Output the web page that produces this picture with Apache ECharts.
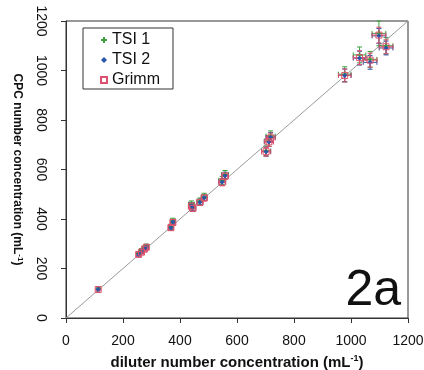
<!DOCTYPE html>
<html>
<head>
<meta charset="utf-8">
<script src="https://cdn.jsdelivr.net/npm/echarts@6/dist/echarts.min.js"></script>
<style>html,body{margin:0;padding:0;background:#fff}#c{width:424px;height:370px}</style>
</head>
<body>
<div id="c"></div>
<script>
// diluter number concentration (x) and its error
const diluter = [113, 255, 265, 275, 282, 368, 375, 440, 445, 470, 485, 548, 558, 702, 712, 718, 978, 1030, 1067, 1098, 1123];
const diluterErr = [3, 6, 6, 6, 6, 8, 8, 10, 10, 10, 10, 12, 12, 16, 16, 16, 22, 22, 24, 24, 24];
// CPC number concentrations per instrument
const tsi1 = [118, 260, 272, 282, 290, 368, 392, 460, 448, 472, 490, 556, 580, 675, 715, 735, 985, 1063, 1045, 1150, 1100];
const tsi1Err = [4, 8, 8, 8, 8, 11, 11, 13, 13, 13, 14, 16, 16, 20, 21, 21, 30, 32, 32, 50, 33];
const tsi2 = [116, 258, 268, 279, 287, 365, 388, 455, 444, 468, 486, 550, 575, 672, 712, 730, 980, 1050, 1033, 1140, 1091];
const tsi2Err = [3, 7, 7, 7, 7, 10, 10, 12, 12, 12, 12, 14, 14, 18, 19, 19, 26, 28, 28, 30, 28];
const grimm = [115, 257, 266, 278, 286, 365, 386, 452, 443, 467, 485, 548, 573, 672, 712, 728, 980, 1052, 1042, 1143, 1096];
const grimmErr = [3, 7, 7, 7, 7, 10, 10, 12, 12, 12, 12, 14, 14, 18, 19, 19, 26, 28, 28, 32, 28];
// 1:1 reference line
const oneToOne = [[0, 0], [1200, 1200]];
const xTicks = [0, 200, 400, 600, 800, 1000, 1200];
const yTicks = [0, 200, 400, 600, 800, 1000, 1200];
const seriesNames = ['TSI 1', 'TSI 2', 'Grimm'];

const colors = { 'TSI 1': '#3f9f3f', 'TSI 2': '#2b55a8', 'Grimm': '#e0506c' };
const FONT = 'Liberation Sans, Arial, sans-serif';

function build(ys, yErr) {
  return diluter.map((x, i) => [x, ys[i], diluterErr[i], yErr[i]]);
}
function errSeries(name, data) {
  const col = colors[name];
  return {
    type: 'custom', name: name + ' err', data: data, z: 2,
    encode: { x: 0, y: 1 },
    renderItem: function (params, api) {
      const x = api.value(0), y = api.value(1), ex = api.value(2), ey = api.value(3);
      const l = api.coord([x - ex, y]), r = api.coord([x + ex, y]);
      const t = api.coord([x, y + ey]), b = api.coord([x, y - ey]);
      const c = 2.5;
      const st = { stroke: col, lineWidth: 1 };
      return { type: 'group', children: [
        { type: 'line', shape: { x1: l[0], y1: l[1], x2: r[0], y2: r[1] }, style: st },
        { type: 'line', shape: { x1: l[0], y1: l[1] - c, x2: l[0], y2: l[1] + c }, style: st },
        { type: 'line', shape: { x1: r[0], y1: r[1] - c, x2: r[0], y2: r[1] + c }, style: st },
        { type: 'line', shape: { x1: t[0], y1: t[1], x2: b[0], y2: b[1] }, style: st },
        { type: 'line', shape: { x1: t[0] - c, y1: t[1], x2: t[0] + c, y2: t[1] }, style: st },
        { type: 'line', shape: { x1: b[0] - c, y1: b[1], x2: b[0] + c, y2: b[1] }, style: st }
      ]};
    }
  };
}
const d1 = build(tsi1, tsi1Err), d2 = build(tsi2, tsi2Err), d3 = build(grimm, grimmErr);
const plain = v => String(v);

const chart = echarts.init(document.getElementById('c'), null, { renderer: 'canvas' });
chart.setOption({
  animation: false,
  backgroundColor: '#fff',
  textStyle: { fontFamily: FONT },
  grid: { left: 66, right: 16, top: 21, bottom: 52, containLabel: false, outerBoundsMode: 'none',
    show: true, borderColor: '#333', borderWidth: 1, backgroundColor: 'transparent' },
  legend: {
    data: seriesNames, orient: 'vertical', left: 83, top: 28,
    padding: [4, 13, 1, 17], itemGap: 4, itemWidth: 6, itemHeight: 6,
    borderColor: '#333', borderWidth: 1,
    textStyle: { fontSize: 16, fontFamily: FONT, color: '#111', lineHeight: 16 }
  },
  xAxis: {
    type: 'value', min: xTicks[0], max: xTicks[xTicks.length - 1], interval: 200,
    splitLine: { show: false },
    axisLine: { show: true, lineStyle: { color: '#333' } },
    axisTick: { show: true, length: 5, inside: false, lineStyle: { color: '#333' } },
    axisLabel: { fontSize: 14, color: '#111', margin: 16, fontFamily: FONT, formatter: plain },
    name: 'diluter number concentration (mL{sup|-1})', nameLocation: 'middle', nameGap: 36,
    nameTextStyle: { fontSize: 15, fontWeight: 'bold', color: '#111', fontFamily: FONT, lineHeight: 17,
      rich: { sup: { fontSize: 9, fontWeight: 'bold', verticalAlign: 'top', lineHeight: 10 } } }
  },
  yAxis: {
    type: 'value', min: yTicks[0], max: yTicks[yTicks.length - 1], interval: 200,
    splitLine: { show: false },
    axisLine: { show: true, lineStyle: { color: '#333' } },
    axisTick: { show: true, length: 5, inside: false, lineStyle: { color: '#333' } },
    axisLabel: { fontSize: 14, color: '#111', margin: 18, rotate: -90, fontFamily: FONT, formatter: plain },
    name: 'CPC number concentration (mL{sup|-1})', nameLocation: 'middle', nameGap: 42, nameRotate: -90,
    nameTextStyle: { fontSize: 12, fontWeight: 'bold', color: '#111', fontFamily: FONT, lineHeight: 14,
      rich: { sup: { fontSize: 8, fontWeight: 'bold', verticalAlign: 'top', lineHeight: 9 } } }
  },
  graphic: [{
    type: 'text', right: 23, top: 266, z: 10,
    style: { text: '2a', font: '50px ' + FONT, fill: '#111' }
  }],
  series: [
    { type: 'line', name: '1:1', data: oneToOne, symbol: 'none', z: 1,
      lineStyle: { color: '#9a9a9a', width: 1 }, silent: true },
    errSeries('TSI 1', d1),
    errSeries('TSI 2', d2),
    errSeries('Grimm', d3),
    { type: 'scatter', name: 'TSI 1', data: d1, z: 3, symbol: 'path://M2,0H4V2H6V4H4V6H2V4H0V2H2Z', symbolSize: 5,
      itemStyle: { color: colors['TSI 1'], opacity: 1 } },
    { type: 'scatter', name: 'TSI 2', data: d2, z: 4, symbol: 'diamond', symbolSize: 5,
      itemStyle: { color: colors['TSI 2'], opacity: 1 } },
    { type: 'scatter', name: 'Grimm', data: d3, z: 5, symbol: 'rect', symbolSize: 6,
      itemStyle: { color: 'rgba(255,255,255,0)', borderColor: colors['Grimm'], borderWidth: 1, opacity: 1 } }
  ]
});
</script>
</body>
</html>
